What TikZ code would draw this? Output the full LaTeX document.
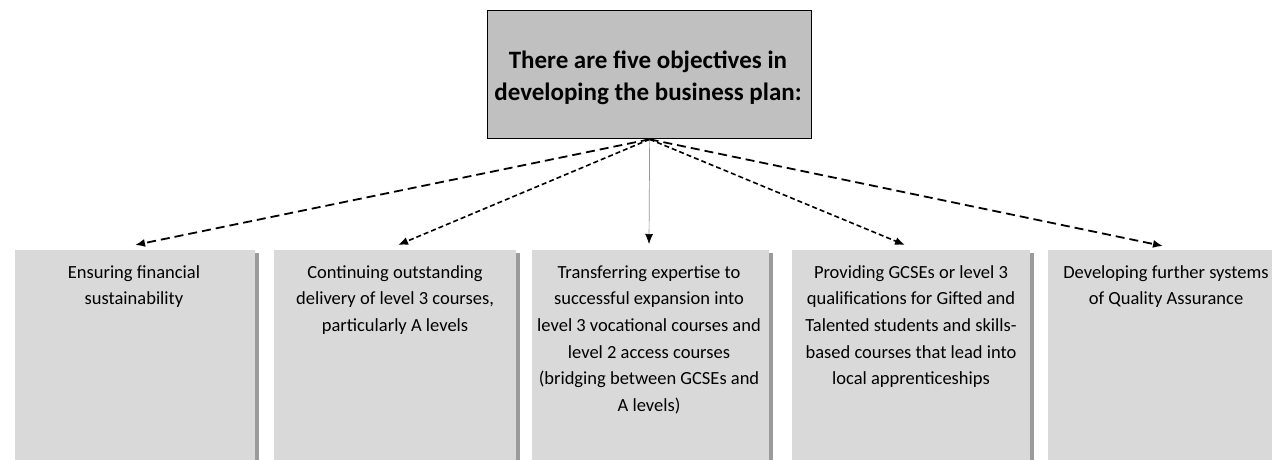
\documentclass[tikz,border=0pt]{standalone}
\usepackage{fontspec}
\setmainfont{Carlito}
\usetikzlibrary{arrows.meta}
\definecolor{topfill}{RGB}{192,192,192}
\definecolor{boxfill}{RGB}{217,217,217}
\definecolor{shadowc}{RGB}{155,155,155}
\definecolor{thinline}{RGB}{150,150,150}
\tikzset{
  topbox/.style={draw=black, line width=1.3pt, fill=topfill, rectangle, inner sep=0pt},
  objbox/.style={fill=boxfill, rectangle, inner sep=0pt},
  objtext/.style={anchor=north, align=center, inner sep=0pt, font=\fontsize{18.5}{26.7}\selectfont},
  toptext/.style={align=center, inner sep=0pt, font=\fontsize{25}{32}\selectfont\bfseries},
  longdash/.style={-{Latex[length=10pt,width=8pt]}, line width=1.8pt, dash pattern=on 9pt off 5pt},
  shortdash/.style={-{Latex[length=10pt,width=8pt]}, line width=1.6pt, dash pattern=on 5pt off 3pt},
  thinarrow/.style={draw=thinline, line width=0.7pt, -{Latex[length=10pt,width=8pt,fill=black,color=black]}},
}
\begin{document}
\begin{tikzpicture}[x=1pt,y=-1pt]
\useasboundingbox (0,0) rectangle (1272,459);
\fill[white] (0,0) rectangle (1272,459);
\begin{scope}
\clip (0,0) rectangle (1272,459);
% shadows
\fill[shadowc] (18,253) rectangle (259,462);
\fill[shadowc] (277,253) rectangle (520,462);
\fill[shadowc] (535,253) rectangle (773,462);
\fill[shadowc] (795,253) rectangle (1034,462);
\fill[shadowc] (1051,253) rectangle (1292,462);
% boxes
\node[objbox, minimum width=240pt, minimum height=210pt, anchor=north west] (b1) at (15,250) {};
\node[objbox, minimum width=242pt, minimum height=210pt, anchor=north west] (b2) at (274,250) {};
\node[objbox, minimum width=237pt, minimum height=210pt, anchor=north west] (b3) at (532,250) {};
\node[objbox, minimum width=238pt, minimum height=210pt, anchor=north west] (b4) at (792,250) {};
\node[objbox, minimum width=240pt, minimum height=210pt, anchor=north west] (b5) at (1048,250) {};
\end{scope}
% texts
\node[objtext] (t1) at (134,265) {Ensuring financial\\sustainability};
\node[objtext] (t2) at (395,265) {Continuing outstanding\\delivery of level 3 courses,\\particularly A levels};
\node[objtext] (t3) at (649,265) {Transferring expertise to\\successful expansion into\\level 3 vocational courses and\\level 2 access courses\\(bridging between GCSEs and\\A levels)};
\node[objtext] (t4) at (911,265) {Providing GCSEs or level 3\\qualifications for Gifted and\\Talented students and skills-\\based courses that lead into\\local apprenticeships};
\node[objtext] (t5) at (1166,265) {Developing further systems\\of Quality Assurance};
% top box
\node[topbox, minimum width=324pt, minimum height=128pt, anchor=north west] (top) at (487,10) {};
\node[toptext] (tt) at (648,78) {There are five objectives in\\developing the business plan:};
% connectors
\coordinate (a1) at (135,245);
\coordinate (a2) at (398,245);
\coordinate (a3) at (649,244);
\coordinate (a4) at (905,245);
\coordinate (a5) at (1163,246);
\draw[longdash] (top.south) -- (a1);
\draw[shortdash] (top.south) -- (a2);
\draw[thinarrow] (top.south) -- (a3);
\draw[shortdash] (top.south) -- (a4);
\draw[longdash] (top.south) -- (a5);
\end{tikzpicture}
\end{document}
